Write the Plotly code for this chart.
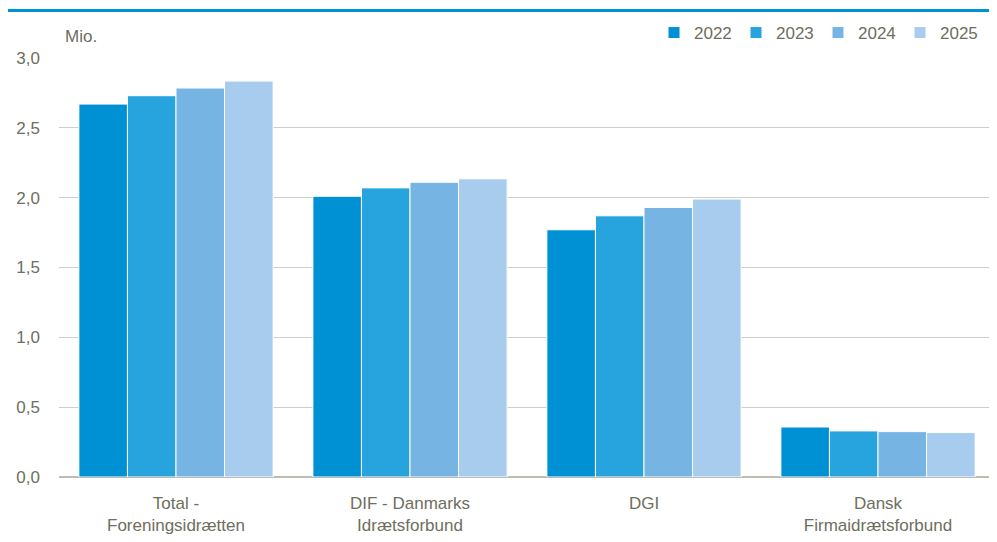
import plotly.graph_objects as go

categories = ["Total -<br>Foreningsidrætten", "DIF - Danmarks<br>Idrætsforbund", "DGI", "Dansk<br>Firmaidrætsforbund"]
years = ["2022", "2023", "2024", "2025"]
values = {
    "2022": [2.67, 2.01, 1.77, 0.358],
    "2023": [2.73, 2.07, 1.87, 0.330],
    "2024": [2.785, 2.11, 1.93, 0.325],
    "2025": [2.835, 2.135, 1.99, 0.318],
}
colors = ["#0090D4", "#27A3DE", "#76B5E3", "#A7CCEE"]
yticks = [0, 0.5, 1.0, 1.5, 2.0, 2.5, 3.0]
yticklabels = ["0,0", "0,5", "1,0", "1,5", "2,0", "2,5", "3,0"]

FONT = "Liberation Sans, Arial, sans-serif"
TXT = "#6E6E5E"

fig = go.Figure()
for yr, c in zip(years, colors):
    fig.add_trace(go.Bar(x=categories, y=values[yr], name=yr, marker_color=c,
                         marker_line=dict(color="white", width=1)))

# page has an 8px body margin, so the figure is sized to fill the remaining window
W, H = 989, 534
l, r, t, b = 51, 2, 50, 65
ph = H - t - b
pw = W - l - r
fig.update_layout(
    width=W, height=H, barmode="group", bargap=0.17, bargroupgap=0,
    margin=dict(l=l, r=r, t=t, b=b, autoexpand=False),
    plot_bgcolor="white", paper_bgcolor="white",
    font=dict(family=FONT, size=17, color=TXT),
    legend=dict(orientation="h", x=(654 - 8 - l) / pw, xanchor="left",
                y=1 + 7 / ph, yanchor="bottom",
                font=dict(size=17, color=TXT), entrywidth=37, traceorder="normal",
                itemwidth=30, bgcolor="rgba(0,0,0,0)"),
    xaxis=dict(showgrid=False, showline=False, ticks="", tickfont=dict(size=17, color=TXT),
               ticklabelstandoff=14),
    yaxis=dict(range=[0, 3.0], tickvals=yticks, ticktext=yticklabels,
               showgrid=True, gridcolor="#CFCFC6", gridwidth=1, zeroline=True,
               zerolinecolor="#BDBDB3", zerolinewidth=2,
               tickfont=dict(size=17, color=TXT), ticklabelstandoff=18),
    shapes=[dict(type="line", xref="paper", yref="paper", x0=-l / pw, x1=1.01,
                 y0=1 + (t - 2.5) / ph, y1=1 + (t - 2.5) / ph,
                 line=dict(color="#0090D4", width=3))],
    annotations=[dict(text="Mio.", xref="paper", yref="paper", x=0.004, y=1 + 10 / ph,
                      xanchor="left", yanchor="bottom", showarrow=False,
                      font=dict(size=17, color=TXT))],
)
fig.write_html("out.html")
